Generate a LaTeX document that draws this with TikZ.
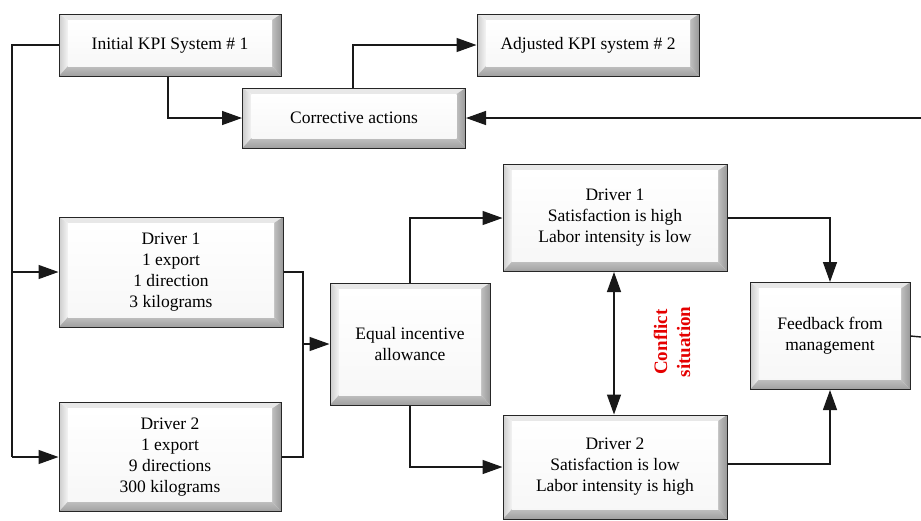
\documentclass[tikz,border=0pt]{standalone}
\usepackage{fontspec}
\setmainfont{Liberation Serif}
\usetikzlibrary{arrows.meta,calc}

\tikzset{
  bevelbox/.style={
    draw=black!85, line width=1pt, fill=white, align=center,
    font=\fontsize{17.5}{21}\selectfont, inner sep=0pt,
    path picture={
      \coordinate (A) at (path picture bounding box.south west);
      \coordinate (B) at (path picture bounding box.north east);
      \coordinate (iA) at ($(A)+(9pt,10pt)$);
      \coordinate (iB) at ($(B)+(-9pt,-6pt)$);
      % top and left faces: light
      \fill[gray!18] (A|-B) -- (B) -- (iB) -- (iA|-iB) -- cycle;
      \shade[left color=gray!40, right color=gray!8] (A|-B) -- (iA|-iB) -- (iA) -- (A) -- cycle;
      % right and bottom faces: dark
      \shade[left color=gray!50, right color=gray!80] (B) -- (B|-A) -- (iB|-iA) -- (iB) -- cycle;
      \shade[top color=gray!50, bottom color=gray!75] (A) -- (B|-A) -- (iB|-iA) -- (iA) -- cycle;
      % face
      \shade[top color=white, bottom color=gray!6] (iA) rectangle (iB);
    }
  },
  link/.style={line width=1.4pt, draw=black!90},
  arr/.style={link, -{Triangle[length=20pt,width=14pt]}},
  arrboth/.style={link, {Triangle[length=20pt,width=14pt]}-{Triangle[length=20pt,width=14pt]}},
  conflict/.style={text=red!90!black, font=\bfseries\fontsize{19}{23}\selectfont, align=center, rotate=90}
}

\begin{document}
\begin{tikzpicture}[x=1pt, y=-1pt]
  \useasboundingbox (0,0) rectangle (921,520);

  % boxes
  \node[bevelbox, minimum width=222pt, minimum height=62pt] (ikpi) at (170,45) {Initial KPI System \# 1};
  \node[bevelbox, minimum width=222pt, minimum height=62pt] (adj)  at (588,45) {Adjusted KPI system \# 2};
  \node[bevelbox, minimum width=223pt, minimum height=60pt] (corr) at (354,118) {Corrective actions};
  \node[bevelbox, minimum width=224pt, minimum height=110pt] (d1l) at (171,272) {Driver 1\\1 export\\1 direction\\3 kilograms};
  \node[bevelbox, minimum width=222pt, minimum height=109pt] (d2l) at (170,457) {Driver 2\\1 export\\9 directions\\300 kilograms};
  \node[bevelbox, minimum width=160pt, minimum height=122pt] (eq)  at (410,344) {Equal incentive\\allowance};
  \node[bevelbox, minimum width=224pt, minimum height=107pt] (d1r) at (615,218) {Driver 1\\Satisfaction is high\\Labor intensity is low};
  \node[bevelbox, minimum width=224pt, minimum height=104pt] (d2r) at (615,467) {Driver 2\\Satisfaction is low\\Labor intensity is high};
  \node[bevelbox, minimum width=160pt, minimum height=107pt] (fb)  at (830,336) {Feedback from\\management};

  \node[conflict] (cs) at (672,342) {Conflict\\situation};

  % free ends and junctions
  \coordinate (lt) at (12,45);
  \coordinate (lb) at (12,457);
  \coordinate (j)  at (303,344);
  \coordinate (re1) at (921,118);
  \coordinate (re2) at (921,337);

  % connectors
  \draw[link] (ikpi.west) -- (lt) -- (lb);
  \draw[arr] (lt |- d1l) -- (d1l.west);
  \draw[arr] (lb) -- (d2l.west);
  \draw[arr] ([xshift=-2pt]ikpi.south) |- (corr.west);
  \draw[arr] ([xshift=-1pt]corr.north) |- (adj.west);
  \draw[arr] (re1) -- (corr.east);
  \draw[link] (fb.east) -- (re2);
  \draw[link] (d1l.east) -| (j);
  \draw[link] (d2l.east) -| (j);
  \draw[arr] (j) -- (eq.west);
  \draw[arr] (eq.north) |- (d1r.west);
  \draw[arr] (eq.south) |- (d2r.west);
  \draw[arr] (d1r.east) -| (fb.north);
  \draw[arr] ([yshift=3pt]d2r.east) -| (fb.south);
  \draw[arrboth] ([xshift=-1pt]d1r.south) -- ([xshift=-1pt]d2r.north);
\end{tikzpicture}
\end{document}
